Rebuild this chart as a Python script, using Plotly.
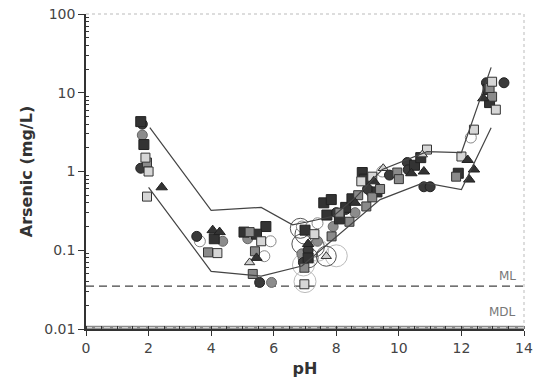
import plotly.graph_objects as go

# ---- data ----
upper_x = [2.04, 4.0, 5.6, 6.6, 7.1, 7.9, 8.64, 9.47, 10.9, 12.0, 12.95]
upper_y = [3.6, 0.32, 0.35, 0.21, 0.23, 0.27, 0.48, 1.06, 1.79, 1.74, 21]
lower_x = [2.0, 4.0, 5.6, 6.9, 9.4, 10.8, 12.0, 12.95]
lower_y = [0.63, 0.054, 0.047, 0.063, 0.44, 0.72, 0.59, 3.6]

dsq_x = [1.75, 1.85, 4.1, 5.05, 5.75, 5.45, 7.0, 7.6, 7.84, 7.7, 8.3, 8.83, 8.9, 10.5, 12.9, 11.9, 7.1, 9.3, 8.1, 8.5, 10.7, 12.85]
dsq_y = [4.3, 2.2, 0.14, 0.17, 0.2, 0.16, 0.18, 0.4, 0.44, 0.28, 0.35, 0.97, 0.8, 1.2, 7.5, 0.95, 0.08, 0.55, 0.25, 0.45, 1.5, 11.0]

gsq_x = [1.95, 3.9, 5.23, 5.4, 5.33, 6.98, 7.85, 8.1, 8.42, 8.96, 9.15, 9.95, 10.0, 11.83, 12.98, 9.4, 8.7, 12.9]
gsq_y = [1.3, 0.094, 0.17, 0.097, 0.05, 0.06, 0.15, 0.3, 0.23, 0.36, 0.47, 0.97, 0.8, 0.86, 8.9, 0.6, 0.5, 11.5]

lsq_x = [1.9, 2.0, 1.95, 4.2, 5.6, 6.98, 9.15, 10.9, 12.98, 13.1, 12.4, 12.0, 7.3, 8.8]
lsq_y = [1.5, 1.0, 0.48, 0.092, 0.13, 0.037, 0.86, 1.9, 13.8, 6.1, 3.4, 1.55, 0.16, 0.75]

dci_x = [1.8, 1.75, 3.54, 5.55, 6.95, 7.1, 10.27, 10.3, 10.8, 11.0, 12.8, 13.36, 8.0, 9.0, 8.3, 9.7]
dci_y = [4.0, 1.1, 0.15, 0.039, 0.07, 0.1, 1.3, 1.05, 0.64, 0.64, 13.4, 13.4, 0.3, 0.6, 0.33, 0.9]

gci_x = [1.8, 4.37, 5.17, 5.93, 7.4, 8.6, 7.9, 6.9, 9.1]
gci_y = [2.9, 0.13, 0.14, 0.039, 0.13, 0.3, 0.2, 0.09, 0.55]

dtr_x = [2.42, 4.05, 4.27, 5.45, 10.8, 10.4, 12.2, 12.4, 12.25, 12.7, 7.1, 9.2, 8.6]
dtr_y = [0.63, 0.18, 0.17, 0.08, 1.0, 0.95, 1.4, 1.06, 0.79, 8.5, 0.12, 0.75, 0.4]

ltr_x = [5.23, 10.75, 7.68, 9.5]
ltr_y = [0.07, 1.64, 0.084, 1.1]

oci_x = [3.64, 5.7, 9.47, 12.3, 6.9, 7.2, 7.4, 5.9]
oci_y = [0.13, 0.084, 1.0, 2.7, 0.2, 0.2, 0.22, 0.13]

bci_x = [6.9, 7.1, 7.68, 7.3, 7.0, 6.85]
bci_y = [0.12, 0.08, 0.084, 0.11, 0.16, 0.19]

fci_x = [8.0, 7.0, 7.4, 6.95]
fci_y = [0.085, 0.04, 0.1, 0.065]

ML = 0.035
MDL = 0.0104
x_ticks = [0, 2, 4, 6, 8, 10, 12, 14]
y_ticks = [0.01, 0.1, 1, 10, 100]
y_tick_labels = ["0.01", "0.1", "1", "10", "100"]

fig = go.Figure()

# reference lines
fig.add_trace(go.Scatter(x=[0, 14], y=[MDL, MDL], mode="lines",
                         line=dict(color="#8a8a8a", width=4), hoverinfo="skip"))
fig.add_trace(go.Scatter(x=[0, 14], y=[MDL, MDL], mode="lines",
                         line=dict(color="#e0e0e0", width=1, dash="6px,3px"), hoverinfo="skip"))
fig.add_trace(go.Scatter(x=[0, 14], y=[ML, ML], mode="lines",
                         line=dict(color="#444", width=1.4, dash="8px,5px"), hoverinfo="skip"))

def pts(x, y, symbol, fill, size=10, line_color="#333", lw=1, opacity=1.0):
    fig.add_trace(go.Scatter(x=x, y=y, mode="markers", opacity=opacity,
                             marker=dict(symbol=symbol, size=size, color=fill,
                                         line=dict(color=line_color, width=lw))))

pts(fci_x, fci_y, "circle-open", "#bbbbbb", size=22, lw=1)
pts(bci_x, bci_y, "circle-open", "#555555", size=20, lw=1)
pts(oci_x, oci_y, "circle", "#ffffff", size=11, line_color="#888")
pts(gci_x, gci_y, "circle", "#8c8c8c", size=10, line_color="#666")
pts(dci_x, dci_y, "circle", "#3a3a3a", size=10, line_color="#222")
pts(dsq_x, dsq_y, "square", "#333333", size=10, line_color="#222")
pts(gsq_x, gsq_y, "square", "#8a8a8a", size=9, line_color="#333")
pts(lsq_x, lsq_y, "square", "#d6d6d6", size=9, line_color="#333")
pts(dtr_x, dtr_y, "triangle-up", "#333333", size=10, line_color="#222")
pts(ltr_x, ltr_y, "triangle-up", "#d0d0d0", size=9, line_color="#333")

# envelope lines
fig.add_trace(go.Scatter(x=upper_x, y=upper_y, mode="lines",
                         line=dict(color="#444", width=1.2), hoverinfo="skip"))
fig.add_trace(go.Scatter(x=lower_x, y=lower_y, mode="lines",
                         line=dict(color="#444", width=1.2), hoverinfo="skip"))

# annotation y is given in log10 units on a log axis
fig.add_annotation(x=13.46, y=-1.33, text="ML", showarrow=False,
                   font=dict(size=12, color="#777"), xanchor="center", yanchor="middle")
fig.add_annotation(x=13.3, y=-1.785, text="MDL", showarrow=False,
                   font=dict(size=12, color="#777"), xanchor="center", yanchor="middle")

# top/right dotted frame
fig.add_shape(type="line", xref="paper", yref="paper", x0=0, x1=1, y0=1, y1=1,
              line=dict(color="#bbbbbb", width=1, dash="dot"))
fig.add_shape(type="line", xref="paper", yref="paper", x0=1, x1=1, y0=0, y1=1,
              line=dict(color="#bbbbbb", width=1, dash="dot"))

font_family = "DejaVu Sans, Verdana, sans-serif"
fig.update_layout(
    width=534, height=389,
    margin=dict(l=86, r=10, t=14, b=60),
    paper_bgcolor="white", plot_bgcolor="white",
    showlegend=False,
    font=dict(family=font_family, size=12, color="#333"),
    xaxis=dict(range=[0, 14], tickvals=x_ticks, showgrid=False, zeroline=False,
               automargin=False,
               showline=True, linecolor="#333", linewidth=1.5,
               ticks="outside", ticklen=5, tickcolor="#333",
               minor=dict(ticks="inside", ticklen=3, dtick=0.5, tickcolor="#333"),
               tickfont=dict(size=14, color="#444"),
               title=dict(text="<b>pH</b>", font=dict(size=16, color="#333"), standoff=8)),
    yaxis=dict(type="log", range=[-2, 2], tickvals=y_ticks, ticktext=y_tick_labels,
               showgrid=False, zeroline=False, automargin=False,
               showline=True, linecolor="#333", linewidth=1.5,
               ticks="outside", ticklen=6, tickcolor="#333",
               minor=dict(ticks="inside", ticklen=3, tickcolor="#333",
                          tickvals=[m * 10 ** e for e in range(-2, 2) for m in range(2, 10)]),
               tickfont=dict(size=14, color="#444"),
               title=dict(text="<b>Arsenic (mg/L)</b>", font=dict(size=16, color="#333"), standoff=8)),
)

fig.write_html("out.html", config={"displayModeBar": False},
               post_script="document.body.style.margin='0';document.body.style.overflow='hidden';")
